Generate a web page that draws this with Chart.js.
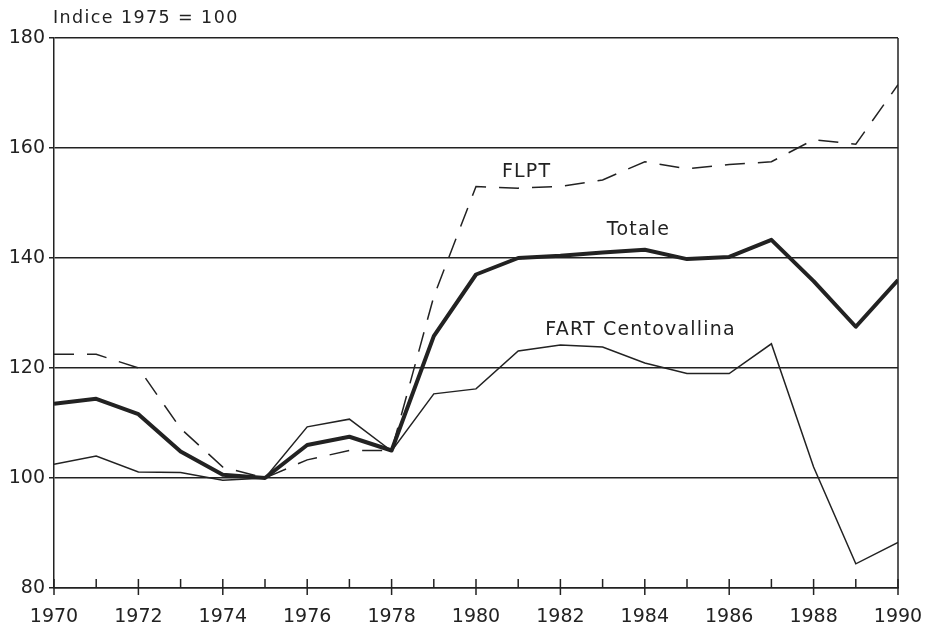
<!DOCTYPE html>
<html>
<head>
<meta charset="utf-8">
<script src="https://cdn.jsdelivr.net/npm/chart.js@4/dist/chart.umd.min.js"></script>
<style>
  html, body { margin: 0; padding: 0; background: #fff; }
  #wrap { width: 925px; height: 631px; }
</style>
</head>
<body>
<div id="wrap"><canvas id="chart"></canvas></div>
<script>
const years = [1970, 1971, 1972, 1973, 1974, 1975, 1976, 1977, 1978, 1979, 1980,
               1981, 1982, 1983, 1984, 1985, 1986, 1987, 1988, 1989, 1990];
const totale = [113.5, 114.4, 111.6, 104.8, 100.6, 100, 106, 107.5, 105, 125.8, 137,
                140, 140.4, 141, 141.5, 139.8, 140.2, 143.3, 135.8, 127.5, 136];
const fart = [102.5, 104, 101.1, 101, 99.6, 100, 109.3, 110.7, 104.9, 115.3, 116.2,
              123.1, 124.2, 123.8, 120.9, 119, 119, 124.4, 102, 84.4, 88.3];
const flpt = [122.5, 122.5, 120, 109, 102, 100, 103.3, 105, 105, 133, 153,
              152.7, 153, 154.2, 157.5, 156.2, 157, 157.5, 161.5, 160.7, 171.5];
const yTicks = [80, 100, 120, 140, 160, 180];
const axisTitle = 'Indice 1975 = 100';
const seriesLabels = [
    { text: 'FLPT', x: 1981.2, y: 155.6 },
    { text: 'Totale', x: 1983.85, y: 145.1 },
    { text: 'FART Centovallina', x: 1983.9, y: 126.9 }
];

const ink = '#222';
const font = 'DejaVu Sans';

function points(values) {
    return years.map((yr, i) => ({ x: yr, y: values[i] }));
}

const frame = {
    id: 'frame',
    afterDraw(chart) {
        const ctx = chart.ctx;
        const x = chart.scales.x;
        const y = chart.scales.y;
        const area = chart.chartArea;
        ctx.save();
        ctx.strokeStyle = ink;
        ctx.lineWidth = 1.5;
        // right border
        ctx.beginPath();
        ctx.moveTo(x.getPixelForValue(1990), area.top);
        ctx.lineTo(x.getPixelForValue(1990), area.bottom);
        ctx.stroke();
        // year ticks: every year above the axis, even years also below
        for (const yr of years) {
            const px = x.getPixelForValue(yr);
            const below = yr % 2 === 0 ? 7 : 0;
            ctx.beginPath();
            ctx.moveTo(px, area.bottom - 9);
            ctx.lineTo(px, area.bottom + below);
            ctx.stroke();
        }
        ctx.fillStyle = ink;
        ctx.textBaseline = 'middle';
        ctx.textAlign = 'left';
        ctx.font = '17.5px "' + font + '"';
        ctx.letterSpacing = '1.4px';
        ctx.fillText(axisTitle, area.left - 1, 18);
        ctx.textAlign = 'center';
        ctx.font = '19px "' + font + '"';
        ctx.letterSpacing = '1.2px';
        for (const l of seriesLabels) {
            ctx.fillText(l.text, x.getPixelForValue(l.x), y.getPixelForValue(l.y));
        }
        ctx.restore();
    }
};

new Chart(document.getElementById('chart'), {
    type: 'line',
    data: {
        datasets: [
            { label: 'FLPT', data: points(flpt), borderColor: ink, borderWidth: 1.5,
              borderDash: [20, 13], pointRadius: 0, tension: 0 },
            { label: 'FART Centovallina', data: points(fart), borderColor: ink, borderWidth: 1.5,
              pointRadius: 0, tension: 0 },
            { label: 'Totale', data: points(totale), borderColor: ink, borderWidth: 4,
              pointRadius: 0, tension: 0, borderJoinStyle: 'round' }
        ]
    },
    options: {
        responsive: true,
        maintainAspectRatio: false,
        animation: false,
        layout: { padding: { top: 38, right: 27, bottom: 0, left: 0 } },
        plugins: {
            legend: { display: false },
            tooltip: { enabled: false }
        },
        scales: {
            x: {
                type: 'linear',
                min: 1970,
                max: 1990,
                afterFit(scale) {
                    scale.height = 43;
                    scale.paddingLeft = 0;
                    scale.paddingRight = 0;
                },
                grid: { display: false },
                border: { display: true, color: ink, width: 1.5 },
                ticks: {
                    stepSize: 2,
                    autoSkip: false,
                    padding: 10,
                    color: ink,
                    font: { family: font, size: 19 },
                    callback: v => String(v)
                }
            },
            y: {
                min: 80,
                max: 180,
                afterFit(scale) { scale.width = 54; },
                afterBuildTicks(scale) { scale.ticks = yTicks.map(v => ({ value: v })); },
                grid: { color: ink, lineWidth: 1.5, tickLength: 5 },
                border: { display: true, color: ink, width: 1.5 },
                ticks: {
                    padding: 4,
                    color: ink,
                    font: { family: font, size: 19 }
                }
            }
        }
    },
    plugins: [frame]
});
</script>
</body>
</html>
